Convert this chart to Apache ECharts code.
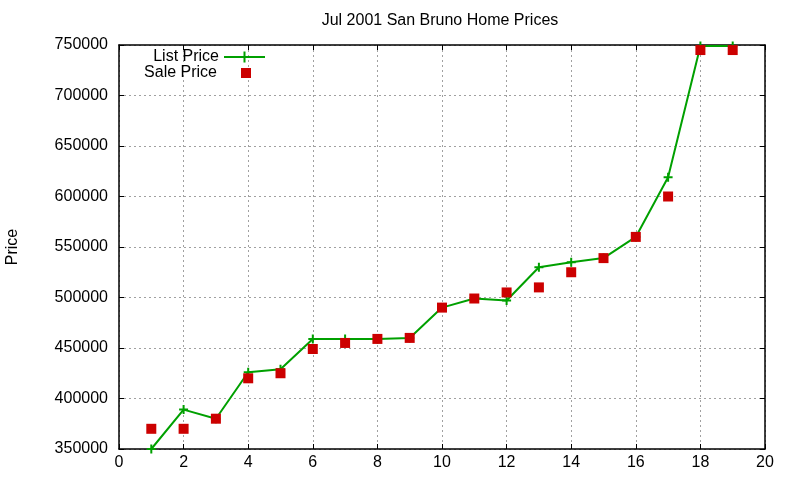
<!DOCTYPE html>
<html>
<head>
<meta charset="utf-8">
<script src="https://cdn.jsdelivr.net/npm/echarts@6/dist/echarts.min.js"></script>
<style>
  html, body { margin: 0; padding: 0; background: #fff; }
  #chart { width: 800px; height: 480px; }
</style>
</head>
<body>
<div id="chart"></div>
<script>
// house number along the street (1..19)
var houses = [1, 2, 3, 4, 5, 6, 7, 8, 9, 10, 11, 12, 13, 14, 15, 16, 17, 18, 19];
var listPrice = [350000, 389000, 380000, 426000, 429000, 459000, 459000, 459000, 460000, 490000,
                 499000, 497000, 530000, 535000, 539000, 560000, 619000, 749000, 749000];
var salePrice = [370000, 370000, 380000, 420000, 425000, 449000, 455000, 459000, 460000, 490000,
                 499000, 505000, 510000, 525000, 539000, 560000, 600000, 745000, 745000];

var FONT = 'Liberation Sans';
var chart = echarts.init(document.getElementById('chart'));

function pairs(ys) {
  return houses.map(function (x, i) { return [x, ys[i]]; });
}

var gridLine = { show: true, lineStyle: { color: '#a0a0a0', type: [2, 3], width: 1 } };
var frame = { show: true, onZero: false, lineStyle: { color: '#000', width: 1.5 } };
var ticksIn = { show: true, inside: true, length: 5, lineStyle: { color: '#000' } };

var option = {
  animation: false,
  backgroundColor: '#fff',
  title: {
    text: 'Jul 2001 San Bruno Home Prices',
    left: 435, top: 8, textAlign: 'center',
    textStyle: { fontFamily: FONT, fontSize: 16, fontWeight: 'normal', color: '#000' }
  },
  legend: [
    {
      data: ['List Price'],
      align: 'right', right: 529, top: 44,
      itemWidth: 41, itemHeight: 14,
      textStyle: { fontFamily: FONT, fontSize: 16, color: '#000' }
    },
    {
      data: [{ name: 'Sale Price', icon: 'rect' }],
      align: 'right', right: 544, top: 60,
      itemWidth: 10, itemHeight: 10,
      textStyle: { fontFamily: FONT, fontSize: 16, color: '#000', padding: [0, 19, 0, 0] }
    }
  ],
  grid: { left: 119, right: 35, top: 45, bottom: 31, outerBoundsMode: 'none', containLabel: false },
  xAxis: [
    {
      type: 'value', min: 0, max: 20, interval: 2,
      axisLine: frame, axisTick: ticksIn, splitLine: gridLine,
      axisLabel: { fontFamily: FONT, fontSize: 16, color: '#000', margin: 6 }
    },
    {
      type: 'value', position: 'top', min: 0, max: 20, interval: 2,
      axisLine: frame, axisTick: ticksIn, splitLine: { show: false },
      axisLabel: { show: false }
    }
  ],
  yAxis: [
    {
      type: 'value', min: 350000, max: 750000, interval: 50000,
      name: 'Price', nameLocation: 'middle', nameGap: 98, nameRotate: 90,
      nameTextStyle: { fontFamily: FONT, fontSize: 16, color: '#000' },
      axisLine: frame, axisTick: ticksIn, splitLine: gridLine,
      axisLabel: {
        fontFamily: FONT, fontSize: 16, color: '#000', margin: 11,
        formatter: function (v) { return String(v); }
      }
    },
    {
      type: 'value', position: 'right', min: 350000, max: 750000, interval: 50000,
      axisLine: frame, axisTick: ticksIn, splitLine: { show: false },
      axisLabel: { show: false }
    }
  ],
  series: [
    {
      name: 'List Price',
      type: 'line',
      data: pairs(listPrice),
      clip: false,
      color: '#00a000',
      lineStyle: { width: 2, color: '#00a000' },
      symbol: 'path://M0,5L10,5M5,0L5,10',
      symbolSize: 9,
      itemStyle: { color: '#00a000', borderColor: '#00a000', borderWidth: 2 },
      z: 3
    },
    {
      name: 'Sale Price',
      type: 'scatter',
      data: pairs(salePrice),
      clip: false,
      color: '#cc0000',
      symbol: 'rect',
      symbolSize: 10,
      itemStyle: { color: '#cc0000', opacity: 1 },
      z: 4
    }
  ]
};

chart.setOption(option);
</script>
</body>
</html>
